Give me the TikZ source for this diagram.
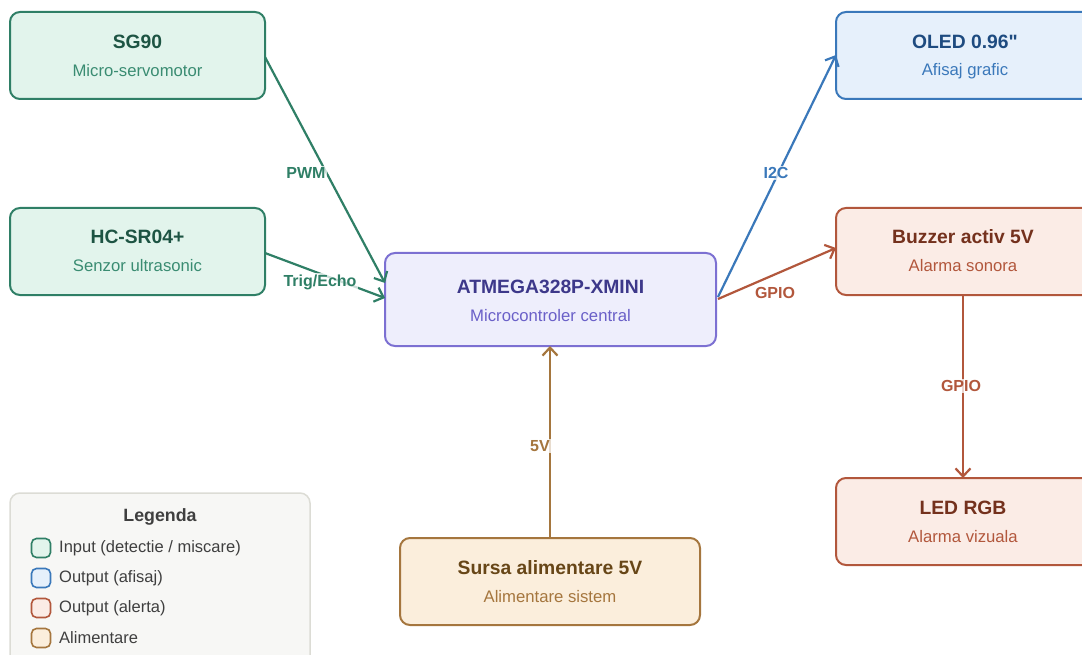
\documentclass[tikz,border=0pt]{standalone}
\usepackage{fontspec}
\setmainfont{Liberation Sans}[Ligatures=TeXOff]
\usetikzlibrary{arrows.meta}
\definecolor{gB}{HTML}{2F7F66}\definecolor{gF}{HTML}{E2F4EC}\definecolor{gT}{HTML}{1D5443}\definecolor{gS}{HTML}{3A8C72}
\definecolor{bB}{HTML}{3A78BA}\definecolor{bF}{HTML}{E6F0FB}\definecolor{bT}{HTML}{1E4B80}\definecolor{bS}{HTML}{3A78BA}
\definecolor{rB}{HTML}{B2573C}\definecolor{rF}{HTML}{FBECE6}\definecolor{rT}{HTML}{74311D}\definecolor{rS}{HTML}{B2573C}
\definecolor{oB}{HTML}{A5763E}\definecolor{oF}{HTML}{FBEEDC}\definecolor{oT}{HTML}{674617}\definecolor{oS}{HTML}{A5763E}
\definecolor{pB}{HTML}{7C70D2}\definecolor{pF}{HTML}{EEEEFC}\definecolor{pT}{HTML}{3D388A}\definecolor{pS}{HTML}{6A60C8}
\definecolor{lgF}{HTML}{F7F7F5}\definecolor{lgB}{HTML}{DCDCD5}\definecolor{lgT}{HTML}{3F3F3F}
\tikzset{
  blk/.style={draw, line width=2pt, rounded corners=10pt, minimum width=#1, minimum height=87pt, inner sep=0pt},
  ttl/.style={font=\fontsize{19.3}{21}\selectfont\bfseries},
  sub/.style={font=\fontsize{16.7}{18}\selectfont},
  conn/.style={line width=2.2pt, -{Straight Barb[length=8pt,width=15pt,line width=2.2pt]}},
  lab/.style={font=\fontsize{16}{17}\selectfont\bfseries, fill=white, fill opacity=0.75, text opacity=1, inner sep=1.5pt},
  lsq/.style={draw, line width=1.6pt, rounded corners=5pt, minimum size=19pt, inner sep=0pt},
  ltx/.style={font=\fontsize{16.5}{18}\selectfont, text=lgT, anchor=west, inner sep=0pt}
}
\begin{document}
\begin{tikzpicture}[x=1pt,y=-1pt]
\useasboundingbox (0,0) rectangle (1082,655);
\begin{scope}
\clip (0,0) rectangle (1082,655);
% blocks
\node[blk=255pt, draw=gB, fill=gF] (sg) at (137.5,55.5) {};
\node[ttl, text=gT] at (137.5,42) {SG90};
\node[sub, text=gS] at (137.5,71) {Micro-servomotor};
\node[blk=255pt, draw=gB, fill=gF] (hc) at (137.5,251.5) {};
\node[ttl, text=gT] at (137.5,237) {HC-SR04+};
\node[sub, text=gS] at (137.5,266) {Senzor ultrasonic};
\node[blk=331pt, draw=pB, fill=pF, minimum height=93pt] (mc) at (550.5,299.5) {};
\node[ttl, text=pT] at (550.5,287) {ATMEGA328P-XMINI};
\node[sub, text=pS] at (550.5,316) {Microcontroler central};
\node[blk=258pt, draw=bB, fill=bF] (ol) at (965,55.5) {};
\node[ttl, text=bT] at (965,42) {OLED 0.96"};
\node[sub, text=bS] at (965,71) {Afisaj grafic};
\node[blk=258pt, draw=rB, fill=rF] (bz) at (965,251.5) {};
\node[ttl, text=rT] at (963,237) {Buzzer activ 5V};
\node[sub, text=rS] at (963,266) {Alarma sonora};
\node[blk=258pt, draw=rB, fill=rF] (led) at (965,521.5) {};
\node[ttl, text=rT] at (963,508) {LED RGB};
\node[sub, text=rS] at (963,537) {Alarma vizuala};
\node[blk=300pt, draw=oB, fill=oF] (ps) at (550,581.5) {};
\node[ttl, text=oT] at (550,568) {Sursa alimentare 5V};
\node[sub, text=oS] at (550,597) {Alimentare sistem};
% connectors
\coordinate (sgE) at (265,57);
\coordinate (hcE) at (265,253);
\coordinate (mcW1) at (385,283);
\coordinate (mcW2) at (385,298);
\coordinate (mcE1) at (718,297);
\coordinate (mcE2) at (718,299);
\coordinate (olW) at (836,55);
\coordinate (bzW) at (836,248);
\coordinate (bzS) at (963,295);
\coordinate (ledN) at (963,478);
\coordinate (psN) at (550,538);
\coordinate (mcS) at (550,346);
\draw[conn, draw=gB] (sgE) -- (mcW1);
\draw[conn, draw=gB] (hcE) -- (mcW2);
\draw[conn, draw=bB] (mcE1) -- (olW);
\draw[conn, draw=rB] (mcE2) -- (bzW);
\draw[conn, draw=rB] (bzS) -- (ledN);
\draw[conn, draw=oB] (psN) -- (mcS);
\node[lab, text=gB] (l1) at (306,173) {PWM};
\node[lab, text=gB] (l2) at (320,282) {Trig/Echo};
\node[lab, text=bB] (l3) at (776,173) {I2C};
\node[lab, text=rB] (l4) at (775,293) {GPIO};
\node[lab, text=rB] (l5) at (961,386) {GPIO};
\node[lab, text=oB] (l6) at (540,446) {5V};
% legend
\node[draw=lgB, fill=lgF, line width=1.5pt, rounded corners=10pt, minimum width=300pt, minimum height=180pt, inner sep=0pt] (lg) at (160,583) {};
\node[font=\fontsize{17.8}{19}\selectfont\bfseries, text=lgT] (lgt) at (160,517) {Legenda};
\node[lsq, draw=gB, fill=gF] (q1) at (41,548) {};
\node[ltx] at (59,548) {Input (detectie / miscare)};
\node[lsq, draw=bB, fill=bF] (q2) at (41,578) {};
\node[ltx] at (59,578) {Output (afisaj)};
\node[lsq, draw=rB, fill=rF] (q3) at (41,608) {};
\node[ltx] at (59,608) {Output (alerta)};
\node[lsq, draw=oB, fill=oF] (q4) at (41,638) {};
\node[ltx] at (59,638) {Alimentare};
\end{scope}
\end{tikzpicture}
\end{document}
